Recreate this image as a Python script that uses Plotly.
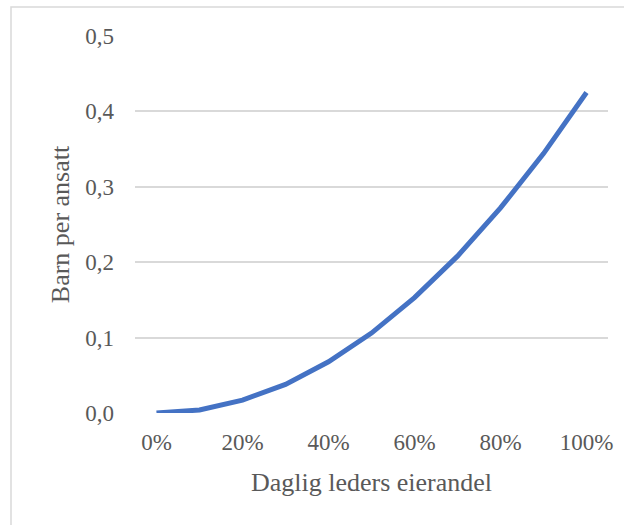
import plotly.graph_objects as go

# Owner share of the managing director (percent) and children per employee
eierandel = [0, 10, 20, 30, 40, 50, 60, 70, 80, 90, 100]
barn_per_ansatt = [0.0, 0.004, 0.017, 0.038, 0.068, 0.106, 0.153, 0.208, 0.272, 0.344, 0.425]

x_ticks = [0, 20, 40, 60, 80, 100]
x_tick_labels = ["0%", "20%", "40%", "60%", "80%", "100%"]
y_ticks = [0.0, 0.1, 0.2, 0.3, 0.4, 0.5]

FONT = "Liberation Serif, Times New Roman, serif"
TEXT = "#595959"
GRID = "#d9d9d9"

fig = go.Figure(
    go.Scatter(
        x=eierandel,
        y=barn_per_ansatt,
        mode="lines",
        line=dict(color="#4472c4", width=5),
        hoverinfo="x+y",
    )
)

W, H = 624, 525
L, R, T, B = 135, 16, 36, 112
pw, ph = W - L - R, H - T - B

fig.update_layout(
    width=W,
    height=H,
    margin=dict(l=L, r=R, t=T, b=B),
    paper_bgcolor="white",
    plot_bgcolor="white",
    showlegend=False,
    separators=", ",
    font=dict(family=FONT, color=TEXT, size=23),
    xaxis=dict(
        range=[-5, 105],
        tickvals=x_ticks,
        ticktext=x_tick_labels,
        showgrid=False,
        zeroline=False,
        showline=False,
        ticks="",
        ticklabelstandoff=13,
        tickfont=dict(size=23, family=FONT, color=TEXT),
        title=dict(text="Daglig leders eierandel", font=dict(size=26, family=FONT, color=TEXT), standoff=18),
    ),
    yaxis=dict(
        range=[0, 0.5],
        tickvals=y_ticks,
        tickformat=".1f",
        showgrid=True,
        gridcolor=GRID,
        gridwidth=1.5,
        zeroline=False,
        showline=False,
        ticks="",
        ticklabelstandoff=20,
        tickfont=dict(size=23, family=FONT, color=TEXT),
        title=dict(text="Barn per ansatt", font=dict(size=26, family=FONT, color=TEXT), standoff=8),
    ),
    # light frame around the whole chart area
    shapes=[
        dict(
            type="rect",
            xref="paper",
            yref="paper",
            x0=(11 - L) / pw,
            x1=(W + 20 - L) / pw,
            y0=-(B + 20) / ph,
            y1=1 + (T - 7) / ph,
            line=dict(color=GRID, width=1.5),
            fillcolor="rgba(0,0,0,0)",
            layer="below",
        )
    ],
)

fig.write_html("out.html")
